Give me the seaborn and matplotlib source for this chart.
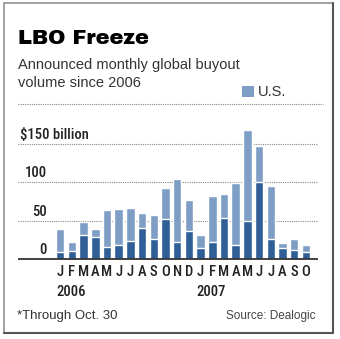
import matplotlib
matplotlib.use('Agg')
import matplotlib.pyplot as plt
import seaborn as sns
import pandas as pd
from matplotlib import font_manager
from matplotlib.patches import Rectangle
from matplotlib.lines import Line2D

# ---- data ----
month_labels = ['J', 'F', 'M', 'A', 'M', 'J', 'J', 'A', 'S', 'O', 'N', 'D',
                'J', 'F', 'M', 'A', 'M', 'J', 'J', 'A', 'S', 'O']
month_keys = ['2006-01', '2006-02', '2006-03', '2006-04', '2006-05', '2006-06',
              '2006-07', '2006-08', '2006-09', '2006-10', '2006-11', '2006-12',
              '2007-01', '2007-02', '2007-03', '2007-04', '2007-05', '2007-06',
              '2007-07', '2007-08', '2007-09', '2007-10']
global_total = [39, 23, 49, 40, 64, 65, 67, 60, 58, 93, 104, 77,
                32, 82, 85, 99, 168, 147, 95, 21, 27, 19]
us_volume = [10, 11, 32, 29, 16, 19, 24, 41, 27, 52, 22, 37,
             15, 22, 54, 18, 50, 100, 26, 15, 12, 10]
gridlines = [50, 100, 150]
ytick_text = {0: '0', 50: '50', 100: '100', 150: '$150 billion'}
years = [('2006', 0), ('2007', 12)]

LIGHT = '#7e9ec6'
DARK = '#2f5f96'

sns.set_theme(style='white')
names = {f.name for f in font_manager.fontManager.ttflist}


def pick(prefs, default):
    for p in prefs:
        if p in names:
            return p
    return default


TITLE_F = pick(['Archivo Black'], 'DejaVu Sans')
TITLE_W = 'normal' if TITLE_F == 'Archivo Black' else 'bold'
BODY_F = pick(['Liberation Sans'], 'DejaVu Sans')
COND_F = pick(['Roboto Condensed', 'Fira Sans Condensed', 'Archivo Narrow',
               'PT Sans Narrow', 'Liberation Sans Narrow', 'IBM Plex Sans Condensed',
               'Encode Sans Condensed'], 'Liberation Sans')
plt.rcParams['font.family'] = [BODY_F, 'DejaVu Sans']

W, H = 340, 339
fig = plt.figure(figsize=(W / 100, H / 100), dpi=100)
fig.patch.set_facecolor('white')


def fx(x):
    return x / W


def fy(y):
    return 1 - y / H


# frame
fig.patches.append(Rectangle((fx(4), fy(333)), fx(333) - fx(4), fy(3) - fy(333),
                             transform=fig.transFigure, fill=False,
                             edgecolor='#9a9a9a', lw=1.3))
fig.lines.append(Line2D([fx(333), fx(333)], [fy(333), fy(3)], transform=fig.transFigure,
                        color='#555555', lw=1.5))
fig.lines.append(Line2D([fx(4), fx(333)], [fy(333), fy(333)], transform=fig.transFigure,
                        color='#555555', lw=1.5))

# header
fig.text(fx(18), fy(38), 'LBO Freeze', fontsize=15, fontweight=TITLE_W,
         family=[TITLE_F, 'DejaVu Sans'], va='center', ha='left', color='black')
fig.text(fx(18), fy(65), 'Announced monthly global buyout', fontsize=10.5,
         va='center', ha='left', color='#333333')
fig.text(fx(18), fy(83), 'volume since 2006', fontsize=10.5,
         va='center', ha='left', color='#333333')
fig.patches.append(Rectangle((fx(242), fy(97)), fx(254) - fx(242), fy(86) - fy(97),
                             transform=fig.transFigure, facecolor=LIGHT, edgecolor='none'))
fig.text(fx(258), fy(92), 'U.S.', fontsize=10.5, va='center', ha='left', color='#333333')
fig.lines.append(Line2D([fx(18), fx(323)], [fy(104), fy(104)], transform=fig.transFigure,
                        color='#888888', lw=0.8, ls=(0, (1, 1))))

# plot
zero_px, top_px, bot_px = 259.3, 120, 262
scale = 0.769  # px per unit
ax = fig.add_axes([fx(18), fy(bot_px), fx(318) - fx(18), (bot_px - top_px) / H])
df = pd.DataFrame({'month': month_keys, 'total': global_total, 'us': us_volume})
sns.barplot(data=df, x='month', y='total', order=month_keys, color=LIGHT,
            saturation=1, width=0.72, ax=ax, zorder=2)
sns.barplot(data=df, x='month', y='us', order=month_keys, color=DARK,
            saturation=1, width=0.72, ax=ax, zorder=3)
pitch = 11.7
x0 = 60.2
ax.set_xlim((18 - x0) / pitch, (318 - x0) / pitch)
ax.set_ylim(-(bot_px - zero_px) / scale, (zero_px - top_px) / scale)
ax.axis('off')
for v in gridlines:
    ax.axhline(v, color='#8a8a8a', lw=0.8, ls=(0, (1, 1)), zorder=1)
ax.axhline(0, color='#333333', lw=1.3, zorder=4)

LS = 10.5
LAB = dict(family=[COND_F, 'DejaVu Sans'], fontsize=LS, fontweight='medium', color='#222222')
for v, t in ytick_text.items():
    if v == 150:
        ax.text((20 - x0) / pitch, v + 3, t, ha='left', va='bottom', **LAB)
    else:
        ax.text((47 - x0) / pitch, v + 3, t, ha='right', va='bottom', **LAB)

for i, m in enumerate(month_labels):
    ax.text(i, -(272 - zero_px) / scale, m, ha='center', va='center', clip_on=False, **LAB)
for y, i in years:
    ax.text(i - 0.36, -(292 - zero_px) / scale, y, ha='left', va='center', clip_on=False, **LAB)

# footer
fig.text(fx(17), fy(316), '*Through Oct. 30', fontsize=9.5, va='center', ha='left',
         color='#333333')
fig.text(fx(316), fy(316), 'Source: Dealogic', fontsize=8.5, va='center', ha='right',
         color='#444444')

fig.savefig('out.png', dpi=100, facecolor='white')
